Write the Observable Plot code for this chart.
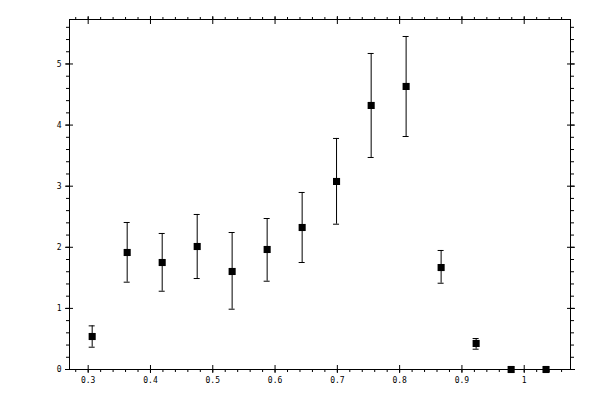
<!DOCTYPE html>
<html>
<head>
<meta charset="utf-8">
<script src="https://cdn.jsdelivr.net/npm/d3@7"></script>
<script src="https://cdn.jsdelivr.net/npm/@observablehq/plot@0.6"></script>
<style>
  html, body { margin: 0; padding: 0; background: #fff; }
</style>
</head>
<body>
<div id="chart"></div>
<script>
const xs   = [0.3064, 0.3626, 0.4188, 0.4750, 0.5311, 0.5873, 0.6435, 0.6987, 0.7543, 0.8104, 0.8666, 0.9228, 0.9790, 1.0350];
const vals = [0.540, 1.915, 1.751, 2.013, 1.604, 1.964, 2.324, 3.077, 4.321, 4.632, 1.669, 0.426, 0.000, 0.000];
const lows = [0.365, 1.429, 1.281, 1.489, 0.987, 1.445, 1.751, 2.378, 3.470, 3.813, 1.412, 0.332, 0.000, 0.000];
const highs= [0.714, 2.406, 2.226, 2.537, 2.242, 2.471, 2.897, 3.781, 5.172, 5.450, 1.948, 0.507, 0.000, 0.000];

const xMajor = [0.3, 0.4, 0.5, 0.6, 0.7, 0.8, 0.9, 1.0];
const xMajorLabels = ["0.3", "0.4", "0.5", "0.6", "0.7", "0.8", "0.9", "1"];
const yMajor = [0, 1, 2, 3, 4, 5];
const yMajorLabels = ["0", "1", "2", "3", "4", "5"];
const xMinor = d3.range(14, 54).map(i => i / 50);   // every 0.02
const yMinor = d3.range(0, 29).map(i => i / 5);     // every 0.2

const data = xs.map((x, i) => ({x, y: vals[i], lo: lows[i], hi: highs[i]}));

const xLab = d => xMajorLabels[xMajor.findIndex(v => Math.abs(v - d) < 1e-9)];
const yLab = d => yMajorLabels[yMajor.findIndex(v => Math.abs(v - d) < 1e-9)];
const none = () => "";

const chart = Plot.plot({
  width: 600,
  height: 400,
  marginLeft: 69,
  marginRight: 30,
  marginTop: 19,
  marginBottom: 31,
  style: {fontFamily: "'DejaVu Sans Mono', monospace", fontSize: "8px", background: "white", color: "black"},
  x: {domain: [0.27, 1.0743]},
  y: {domain: [0, 5.728]},
  marks: [
    Plot.frame({stroke: "black"}),
    // bottom axis
    Plot.axisX({anchor: "bottom", ticks: xMajor, tickSize: 4, tickPadding: 4, tickFormat: xLab, label: null}),
    Plot.axisX({anchor: "bottom", ticks: xMajor, tickSize: -4, tickFormat: none, label: null}),
    Plot.axisX({anchor: "bottom", ticks: xMinor, tickSize: 3, tickFormat: none, label: null}),
    // top axis
    Plot.axisX({anchor: "top", ticks: xMajor, tickSize: 4, tickFormat: none, label: null}),
    Plot.axisX({anchor: "top", ticks: xMajor, tickSize: -4, tickFormat: none, label: null}),
    Plot.axisX({anchor: "top", ticks: xMinor, tickSize: 3, tickFormat: none, label: null}),
    // left axis
    Plot.axisY({anchor: "left", ticks: yMajor, tickSize: 4, tickPadding: 4, tickFormat: yLab, label: null}),
    Plot.axisY({anchor: "left", ticks: yMajor, tickSize: -4, tickFormat: none, label: null}),
    Plot.axisY({anchor: "left", ticks: yMinor, tickSize: 3, tickFormat: none, label: null}),
    // right axis
    Plot.axisY({anchor: "right", ticks: yMajor, tickSize: 4, tickFormat: none, label: null}),
    Plot.axisY({anchor: "right", ticks: yMajor, tickSize: -4, tickFormat: none, label: null}),
    Plot.axisY({anchor: "right", ticks: yMinor, tickSize: 3, tickFormat: none, label: null}),
    // error bars
    Plot.ruleX(data, {x: "x", y1: "lo", y2: "hi", stroke: "black", strokeWidth: 1}),
    Plot.ruleY(data, {y: "hi", x1: "x", x2: "x", insetLeft: -3, insetRight: -3, stroke: "black", strokeWidth: 1}),
    Plot.ruleY(data, {y: "lo", x1: "x", x2: "x", insetLeft: -3, insetRight: -3, stroke: "black", strokeWidth: 1}),
    // markers
    Plot.dot(data, {x: "x", y: "y", symbol: "square", r: 4, fill: "black", stroke: "none"})
  ]
});
document.getElementById("chart").appendChild(chart);
</script>
</body>
</html>
